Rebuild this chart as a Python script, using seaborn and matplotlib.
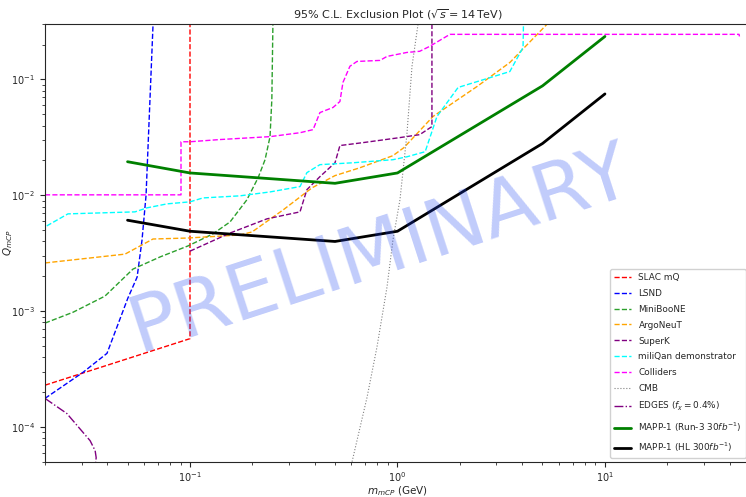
import matplotlib
matplotlib.use('Agg')

import matplotlib.pyplot as plt
import seaborn as sns

# --------------------------------------------
# Exclusion limits (m in GeV, Q in units of e)
slac_x = [0.02, 0.1, 0.1]
slac_y = [2.3e-4, 5.8e-4, 1.0]

lsnd_x = [0.02, 0.0305, 0.0398, 0.0502, 0.0556, 0.0587, 0.0614, 0.0663, 0.068]
lsnd_y = [1.77e-4, 2.97e-4, 4.33e-4, 1.30e-3, 1.97e-3, 4.1e-3, 1.0e-2, 0.288, 0.5]

miniboone_x = [0.02, 0.0273, 0.0389, 0.0531, 0.0717, 0.0978, 0.129, 0.156,
               0.188, 0.213, 0.230, 0.243, 0.248, 0.252]
miniboone_y = [7.9e-4, 9.8e-4, 1.35e-3, 2.31e-3, 2.94e-3, 3.66e-3, 4.65e-3, 5.9e-3,
               9.15e-3, 1.42e-2, 2.03e-2, 3.2e-2, 6.7e-2, 0.5]

argoneut_x = [0.02, 0.0486, 0.0663, 0.0967, 0.174, 0.199, 0.281, 0.387, 0.5,
              0.659, 0.951, 1.074, 1.28, 1.483, 2.42, 3.48, 5.31, 6.2]
argoneut_y = [2.61e-3, 3.11e-3, 4.2e-3, 4.28e-3, 4.55e-3, 4.83e-3, 7.48e-3, 1.16e-2, 1.48e-2,
              1.73e-2, 2.2e-2, 2.58e-2, 3.61e-2, 4.79e-2, 8.7e-2, 0.14, 0.305, 0.4]

superk_x = [0.1, 0.156, 0.235, 0.339, 0.366, 0.423, 0.5, 0.528, 0.682, 1.028, 1.28, 1.466, 1.466]
superk_y = [3.3e-3, 4.73e-3, 6.27e-3, 7.2e-3, 1.12e-2, 1.45e-2, 1.91e-2, 2.69e-2, 2.85e-2,
            3.15e-2, 3.34e-2, 3.92e-2, 0.5]

miliqan_x = [0.0204, 0.0258, 0.0543, 0.0621, 0.0775, 0.1, 0.1155, 0.174, 0.243, 0.339, 0.366,
             0.423, 0.61, 0.951, 1.11, 1.36, 1.55, 1.96, 3.48, 4.03, 4.07]
miliqan_y = [5.45e-3, 6.92e-3, 7.2e-3, 7.8e-3, 8.44e-3, 8.79e-3, 9.5e-3, 9.9e-3, 1.07e-2, 1.19e-2,
             1.57e-2, 1.84e-2, 1.91e-2, 2.03e-2, 2.15e-2, 2.38e-2, 4.79e-2, 8.53e-2, 0.117, 0.189, 0.5]

colliders_x = [0.02, 0.0905, 0.0905, 0.1, 0.1395, 0.243, 0.339, 0.392, 0.423, 0.489, 0.528,
               0.546, 0.590, 0.638, 0.824, 0.89, 1.11, 1.28, 1.43, 1.79, 44.3, 44.5]
colliders_y = [1.01e-2, 1.01e-2, 2.9e-2, 2.9e-2, 3.03e-2, 3.21e-2, 3.47e-2, 3.69e-2, 5.18e-2,
               5.73e-2, 6.45e-2, 9.42e-2, 0.130, 0.143, 0.146, 0.158, 0.171, 0.175, 0.193, 0.245,
               0.245, 0.235]

cmb_x = [0.59, 0.604, 0.713, 0.796, 0.89, 0.951, 1.028, 1.11, 1.175, 1.256, 1.3]
cmb_y = [4.0e-5, 5.02e-5, 1.8e-4, 4.88e-4, 1.61e-3, 4.12e-3, 9.15e-3, 3.34e-2, 0.13, 0.299, 0.5]

edges_x = [0.02, 0.0255, 0.033, 0.0349, 0.0353, 0.0349]
edges_y = [1.77e-4, 1.31e-4, 7.64e-5, 6.26e-5, 5.45e-5, 4.5e-5]

mapp_x = [0.05, 0.1, 0.5, 1, 5, 10]
mapp_run3_y = [0.0195, 0.0156, 0.0127, 0.0156, 0.088, 0.235]
mapp_hl_y = [0.0061, 0.0049, 0.0040, 0.0049, 0.028, 0.075]

# --------------------------------------------
sns.set_style("ticks")
plt.rcParams['font.family'] = ['DejaVu Sans']

fig = plt.figure(figsize=(7.46, 4.97), dpi=100)
ax = fig.add_axes([0.0603, 0.0704, 0.945, 0.881])

curves = [
    (slac_x, slac_y, 'SLAC mQ', 'red', '--', 1.0),
    (lsnd_x, lsnd_y, 'LSND', 'blue', '--', 1.0),
    (miniboone_x, miniboone_y, 'MiniBooNE', 'tab:green', '--', 1.0),
    (argoneut_x, argoneut_y, 'ArgoNeuT', 'orange', '--', 1.0),
    (superk_x, superk_y, 'SuperK', 'purple', '--', 1.0),
    (miliqan_x, miliqan_y, 'miliQan demonstrator', 'cyan', '--', 1.0),
    (colliders_x, colliders_y, 'Colliders', 'magenta', '--', 1.0),
    (cmb_x, cmb_y, 'CMB', 'gray', ':', 0.8),
    (edges_x, edges_y, r'EDGES ($f_\chi = 0.4\%$)', 'purple', '-.', 1.0),
    (mapp_x, mapp_run3_y, r'MAPP-1 (Run-3 $30fb^{-1}$)', 'green', '-', 2.0),
    (mapp_x, mapp_hl_y, r'MAPP-1 (HL $300fb^{-1}$)', 'black', '-', 2.0),
]
for xs, ys, name, col, ls, lw in curves:
    sns.lineplot(x=xs, y=ys, ax=ax, sort=False, estimator=None, label=name,
                 color=col, linestyle=ls, linewidth=lw)

ax.set_xscale('log')
ax.set_yscale('log')
ax.set_xlim(0.02, 50)
ax.set_ylim(5e-5, 0.3)
ax.tick_params(labelsize=7)
ax.tick_params(axis='x', which='major', pad=2.5)

ax.set_title(r'95% C.L. Exclusion Plot ($\sqrt{s} = 14\,$TeV)', fontsize=8, pad=4)
ax.set_xlabel(r'$m_{mCP}$ (GeV)', fontsize=7.5, labelpad=0)
ax.set_ylabel(r'$Q_{mCP}$', fontsize=7.5)
ax.yaxis.set_label_coords(-0.043, 0.5)

ax.legend(loc='lower right', fontsize=6.4, labelspacing=0.78, handlelength=2.0,
          frameon=True, fancybox=True, edgecolor='0.8', framealpha=0.9)

# watermark
ax.text(0.475, 0.484, 'PRELIMINARY', transform=ax.transAxes, fontsize=57,
        color=(0.1, 0.25, 0.95), alpha=0.27, rotation=18, ha='center', va='center',
        rotation_mode='anchor', zorder=10)

fig.savefig('out.png', dpi=100)
